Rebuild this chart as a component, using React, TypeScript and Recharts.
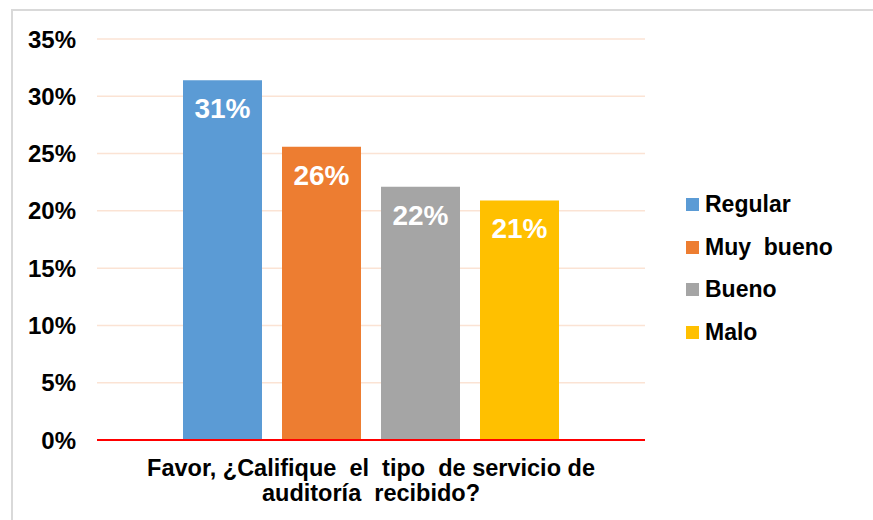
import { BarChart, Bar, XAxis, YAxis, CartesianGrid, LabelList } from 'recharts';

const CATEGORY = 'Favor, ¿Califique el tipo de servicio de auditoría recibido?';
const CATEGORY_LINES = ['Favor, ¿Califique  el  tipo  de servicio de', 'auditoría  recibido?'];
const SERIES = ['Regular', 'Muy  bueno', 'Bueno', 'Malo'];
const VALUES = [0.314, 0.256, 0.221, 0.209];
const LABELS = ['31%', '26%', '22%', '21%'];
const Y_TICKS = [0, 0.05, 0.1, 0.15, 0.2, 0.25, 0.3, 0.35];
const COLORS = ['#5B9BD5', '#ED7D31', '#A5A5A5', '#FFC000'];

const FONT = '"Liberation Sans", Arial, sans-serif';

const row: Record<string, string | number> = { name: CATEGORY };
SERIES.forEach((s, i) => {
  row[`s${i}`] = VALUES[i];
});
const data = [row];

function CategoryTick({ x, y }: any) {
  return (
    <g>
      {CATEGORY_LINES.map((line, i) => (
        <text
          key={i}
          x={x}
          y={y + 28 + i * 25}
          textAnchor="middle"
          fontFamily={FONT}
          fontWeight="bold"
          fontSize={23.5}
          fill="#000"
          style={{ whiteSpace: 'pre' }}
        >
          {line}
        </text>
      ))}
    </g>
  );
}

function LegendBox() {
  return (
    <div style={{ position: 'absolute', left: 686, top: 183, fontFamily: FONT }}>
      {SERIES.map((s, i) => (
        <div key={s} style={{ display: 'flex', alignItems: 'center', height: 42.7 }}>
          <span style={{ width: 13, height: 13, background: COLORS[i], marginRight: 6, display: 'inline-block' }} />
          <span style={{ fontWeight: 'bold', fontSize: 23, color: '#000', whiteSpace: 'pre' }}>{s}</span>
        </div>
      ))}
    </div>
  );
}

export default function App() {
  return (
    <div style={{ position: 'absolute', left: 0, top: 0, width: 873, height: 520, background: '#fff', overflow: 'hidden' }}>
      <div
        style={{
          position: 'absolute',
          left: 11,
          top: 9,
          width: 880,
          height: 530,
          border: '2px solid #D9D9D9',
          boxSizing: 'border-box',
        }}
      />
      <BarChart
        width={873}
        height={520}
        data={data}
        margin={{ top: 39, right: 228, bottom: 0, left: 0 }}
        barCategoryGap={86}
        barGap={20}
        style={{ position: 'absolute', left: 0, top: 0 }}
      >
        <CartesianGrid vertical={false} stroke="#FBE3D4" strokeWidth={1.5} />
        <XAxis
          dataKey="name"
          height={80}
          axisLine={{ stroke: '#FF0000', strokeWidth: 2 }}
          tickLine={false}
          tick={<CategoryTick />}
          interval={0}
        />
        <YAxis
          width={97}
          domain={[0, 0.35]}
          ticks={Y_TICKS}
          axisLine={false}
          tickLine={false}
          tickSize={0}
          tickMargin={21}
          tickFormatter={(v: number) => `${Math.round(v * 100)}%`}
          tick={{ fill: '#000', fontSize: 24, fontWeight: 'bold', fontFamily: FONT }}
        />
        {SERIES.map((s, i) => (
          <Bar key={s} dataKey={`s${i}`} name={s} fill={COLORS[i]} isAnimationActive={false}>
            <LabelList
              dataKey={`s${i}`}
              position="insideTop"
              offset={18}
              formatter={() => LABELS[i]}
              fill="#fff"
              fontSize={28}
              fontWeight="bold"
              fontFamily={FONT}
            />
          </Bar>
        ))}
      </BarChart>
      <LegendBox />
    </div>
  );
}
